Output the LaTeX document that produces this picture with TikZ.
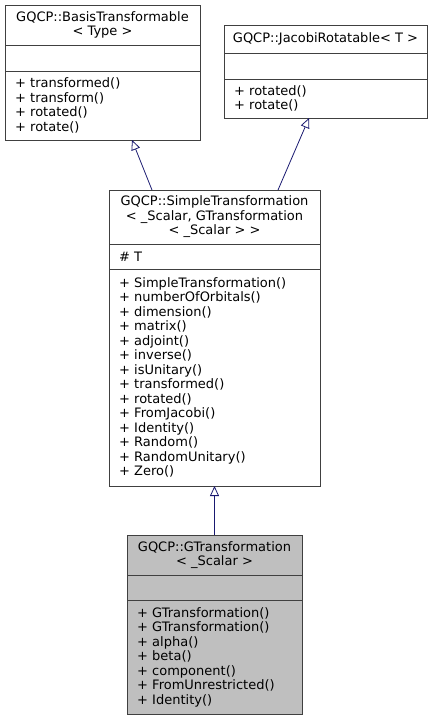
\documentclass[tikz,border=0pt]{standalone}
\usepackage{fontspec}
\setmainfont{DejaVu Sans}
\usetikzlibrary{arrows.meta}
\definecolor{edgeblue}{RGB}{25,25,112}
\definecolor{boxline}{RGB}{64,64,64}

\begin{document}
\begin{tikzpicture}[x=1pt, y=-1pt,
  classbox/.style={draw=boxline, line width=0.9pt, inner sep=0pt, outer sep=0pt},
  title/.style={align=center, inner sep=0pt, font=\fontsize{13}{14.5}\selectfont},
  members/.style={anchor=west, align=left, inner sep=0pt, font=\fontsize{13}{14.5}\selectfont},
  inherit/.style={draw=edgeblue, line width=0.8pt, -{Triangle[open, length=10pt, width=9pt]}}]
  \useasboundingbox (0, 0) rectangle (437, 720);

  % GQCP::BasisTransformable
  \node[classbox, minimum width=195pt, minimum height=135pt] (basis) at (102.5, 72.5) {};
  \draw[boxline, line width=0.9pt] (5, 45) -- (200, 45) (5, 71) -- (200, 71);
  \node[title] (basistitle) at (102.5, 25) {GQCP::BasisTransformable\\< Type >};
  \node[members] (basisops) at (15, 105.5)
    {+ transformed()\\+ transform()\\+ rotated()\\+ rotate()};

  % GQCP::JacobiRotatable
  \node[classbox, minimum width=203pt, minimum height=93pt] (jacobi) at (325.5, 71.5) {};
  \draw[boxline, line width=0.9pt] (224, 53) -- (427, 53) (224, 79) -- (427, 79);
  \node[title] (jacobititle) at (325.5, 39) {GQCP::JacobiRotatable< T >};
  \node[members] (jacobiops) at (234, 98.5) {+ rotated()\\+ rotate()};

  % GQCP::SimpleTransformation
  \node[classbox, minimum width=211pt, minimum height=296pt] (simple) at (214.5, 338) {};
  \draw[boxline, line width=0.9pt] (109, 244) -- (320, 244) (109, 269) -- (320, 269);
  \node[title] (simpletitle) at (214.5, 217)
    {GQCP::SimpleTransformation\\< \_Scalar, GTransformation\\< \_Scalar > >};
  \node[members] (simpleattr) at (119, 256.5) {\# T};
  \node[members] (simpleops) at (119, 377.5)
    {+ SimpleTransformation()\\+ numberOfOrbitals()\\+ dimension()\\+ matrix()\\
     + adjoint()\\+ inverse()\\+ isUnitary()\\+ transformed()\\+ rotated()\\
     + FromJacobi()\\+ Identity()\\+ Random()\\+ RandomUnitary()\\+ Zero()};

  % GQCP::GTransformation
  \node[classbox, fill=black!25, minimum width=175pt, minimum height=179pt] (gtrans) at (214.5, 624.5) {};
  \draw[boxline, line width=0.9pt] (127, 575) -- (302, 575) (127, 600) -- (302, 600);
  \node[title] (gtranstitle) at (214.5, 555) {GQCP::GTransformation\\< \_Scalar >};
  \node[members] (gtransops) at (137, 657)
    {+ GTransformation()\\+ GTransformation()\\+ alpha()\\+ beta()\\
     + component()\\+ FromUnrestricted()\\+ Identity()};

  % inheritance
  \draw[inherit] ([xshift=-62.5pt]simple.north) -- ([xshift=29.5pt]basis.south);
  \draw[inherit] ([xshift=63.5pt]simple.north) -- ([xshift=-16.5pt]jacobi.south);
  \draw[inherit] (gtrans.north) -- (simple.south);
\end{tikzpicture}
\end{document}
